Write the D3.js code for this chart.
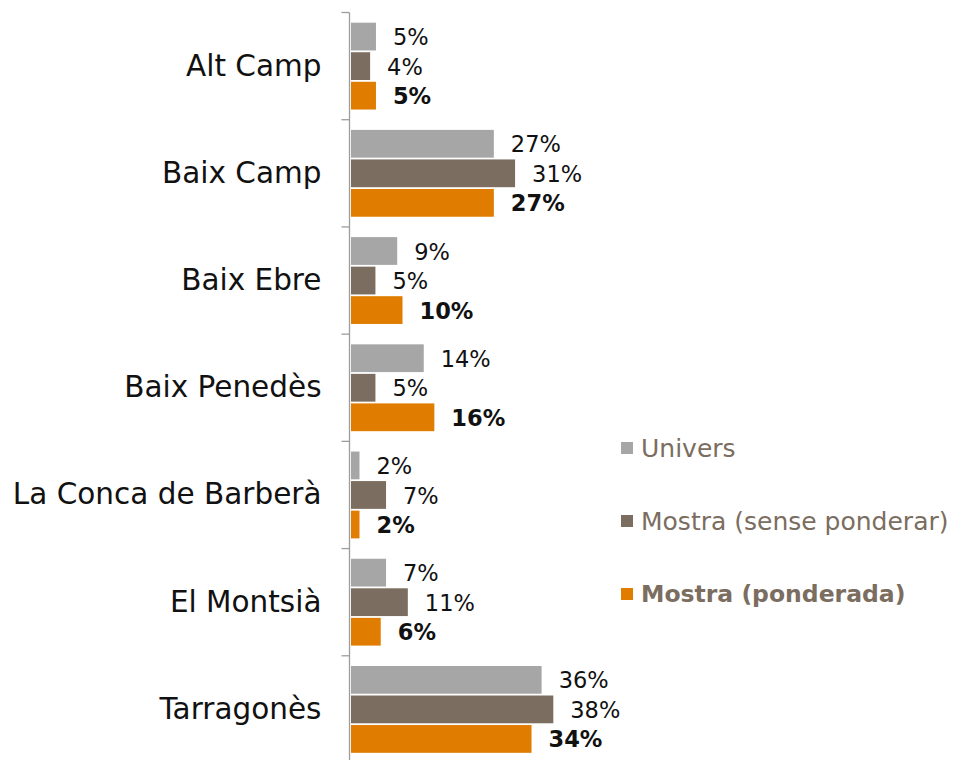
<!DOCTYPE html>
<html><head><meta charset="utf-8">
<script src="https://cdn.jsdelivr.net/npm/d3@7/dist/d3.min.js"></script>
<style>html,body{margin:0;padding:0;background:#fff;}</style>
</head><body>
<svg id="chart" width="955" height="760"></svg>
<script>
const categories = ["Alt Camp","Baix Camp","Baix Ebre","Baix Penedès","La Conca de Barberà","El Montsià","Tarragonès"];
const seriesNames = ["Univers","Mostra (sense ponderar)","Mostra (ponderada)"];
const univers   = [4.7, 26.9, 8.7, 13.7, 1.6, 6.6, 35.9];
const mostra    = [3.6, 30.9, 4.6, 4.6, 6.6, 10.7, 38.1];
const ponderada = [4.7, 26.9, 9.7, 15.7, 1.6, 5.6, 34.0];
const seriesValues = [univers, mostra, ponderada];
const colors = ["#a6a6a6", "#7b6d5f", "#e07c00"];

const svg = d3.select("#chart");
const font = "'DejaVu Sans', sans-serif";

const x = d3.scaleLinear().domain([0, 40]).range([351, 351 + 40*5.31]);
const y0 = d3.scaleBand().domain(categories).range([12.5, 763]).padding(0);
const bw = y0.bandwidth();
const y1 = d3.scaleBand().domain(seriesNames).range([bw*0.095, bw*0.905]).paddingInner(0.06);

const groups = svg.append("g").selectAll("g").data(categories).join("g")
  .attr("transform", c => `translate(0,${y0(c)})`);

seriesNames.forEach((s, si) => {
  groups.append("rect")
    .attr("x", x(0))
    .attr("y", y1(s))
    .attr("width", (c, i) => x(seriesValues[si][i]) - x(0))
    .attr("height", y1.bandwidth())
    .attr("fill", colors[si]);
  groups.append("text")
    .attr("x", (c, i) => x(seriesValues[si][i]) + 17)
    .attr("y", y1(s) + y1.bandwidth()/2)
    .attr("dy", "0.38em")
    .attr("font-family", font)
    .attr("font-size", 22.5)
    .attr("font-weight", si === 2 ? "bold" : "normal")
    .attr("fill", "#111")
    .text((c, i) => Math.round(seriesValues[si][i]) + "%");
});

// axis
const axis = d3.axisLeft(y0).tickSize(0).tickPadding(28);
const ag = svg.append("g").attr("transform", "translate(349.5,0)").call(axis);
ag.select(".domain").attr("stroke", "#9d9d9d").attr("stroke-width", 1.3).attr("d", "M0,12.5V763");
ag.selectAll(".tick text").attr("font-family", font).attr("font-size", 29.5).attr("fill", "#111");
// band boundary ticks
const bounds = categories.map(c => y0(c)).concat([y0.range()[1]]);
ag.selectAll(".bt").data(bounds).join("line").attr("class","bt")
  .attr("x1", -8).attr("x2", 0).attr("y1", d => d).attr("y2", d => d)
  .attr("stroke", "#9d9d9d").attr("stroke-width", 1.3);

// legend
const ly = d3.scalePoint().domain(seriesNames).range([448, 594]);
const lg = svg.append("g").selectAll("g").data(seriesNames).join("g")
  .attr("transform", d => `translate(621,${ly(d)})`);
lg.append("rect").attr("x", 0).attr("y", -6).attr("width", 12).attr("height", 12)
  .attr("fill", (d, i) => colors[i]);
lg.append("text").attr("x", 20).attr("dy", "0.36em")
  .attr("font-family", font).attr("font-size", (d, i) => i === 2 ? 23.5 : 25)
  .attr("font-weight", (d, i) => i === 2 ? "bold" : "normal")
  .attr("fill", "#7b6d5f")
  .text(d => d);
</script>
</body></html>
